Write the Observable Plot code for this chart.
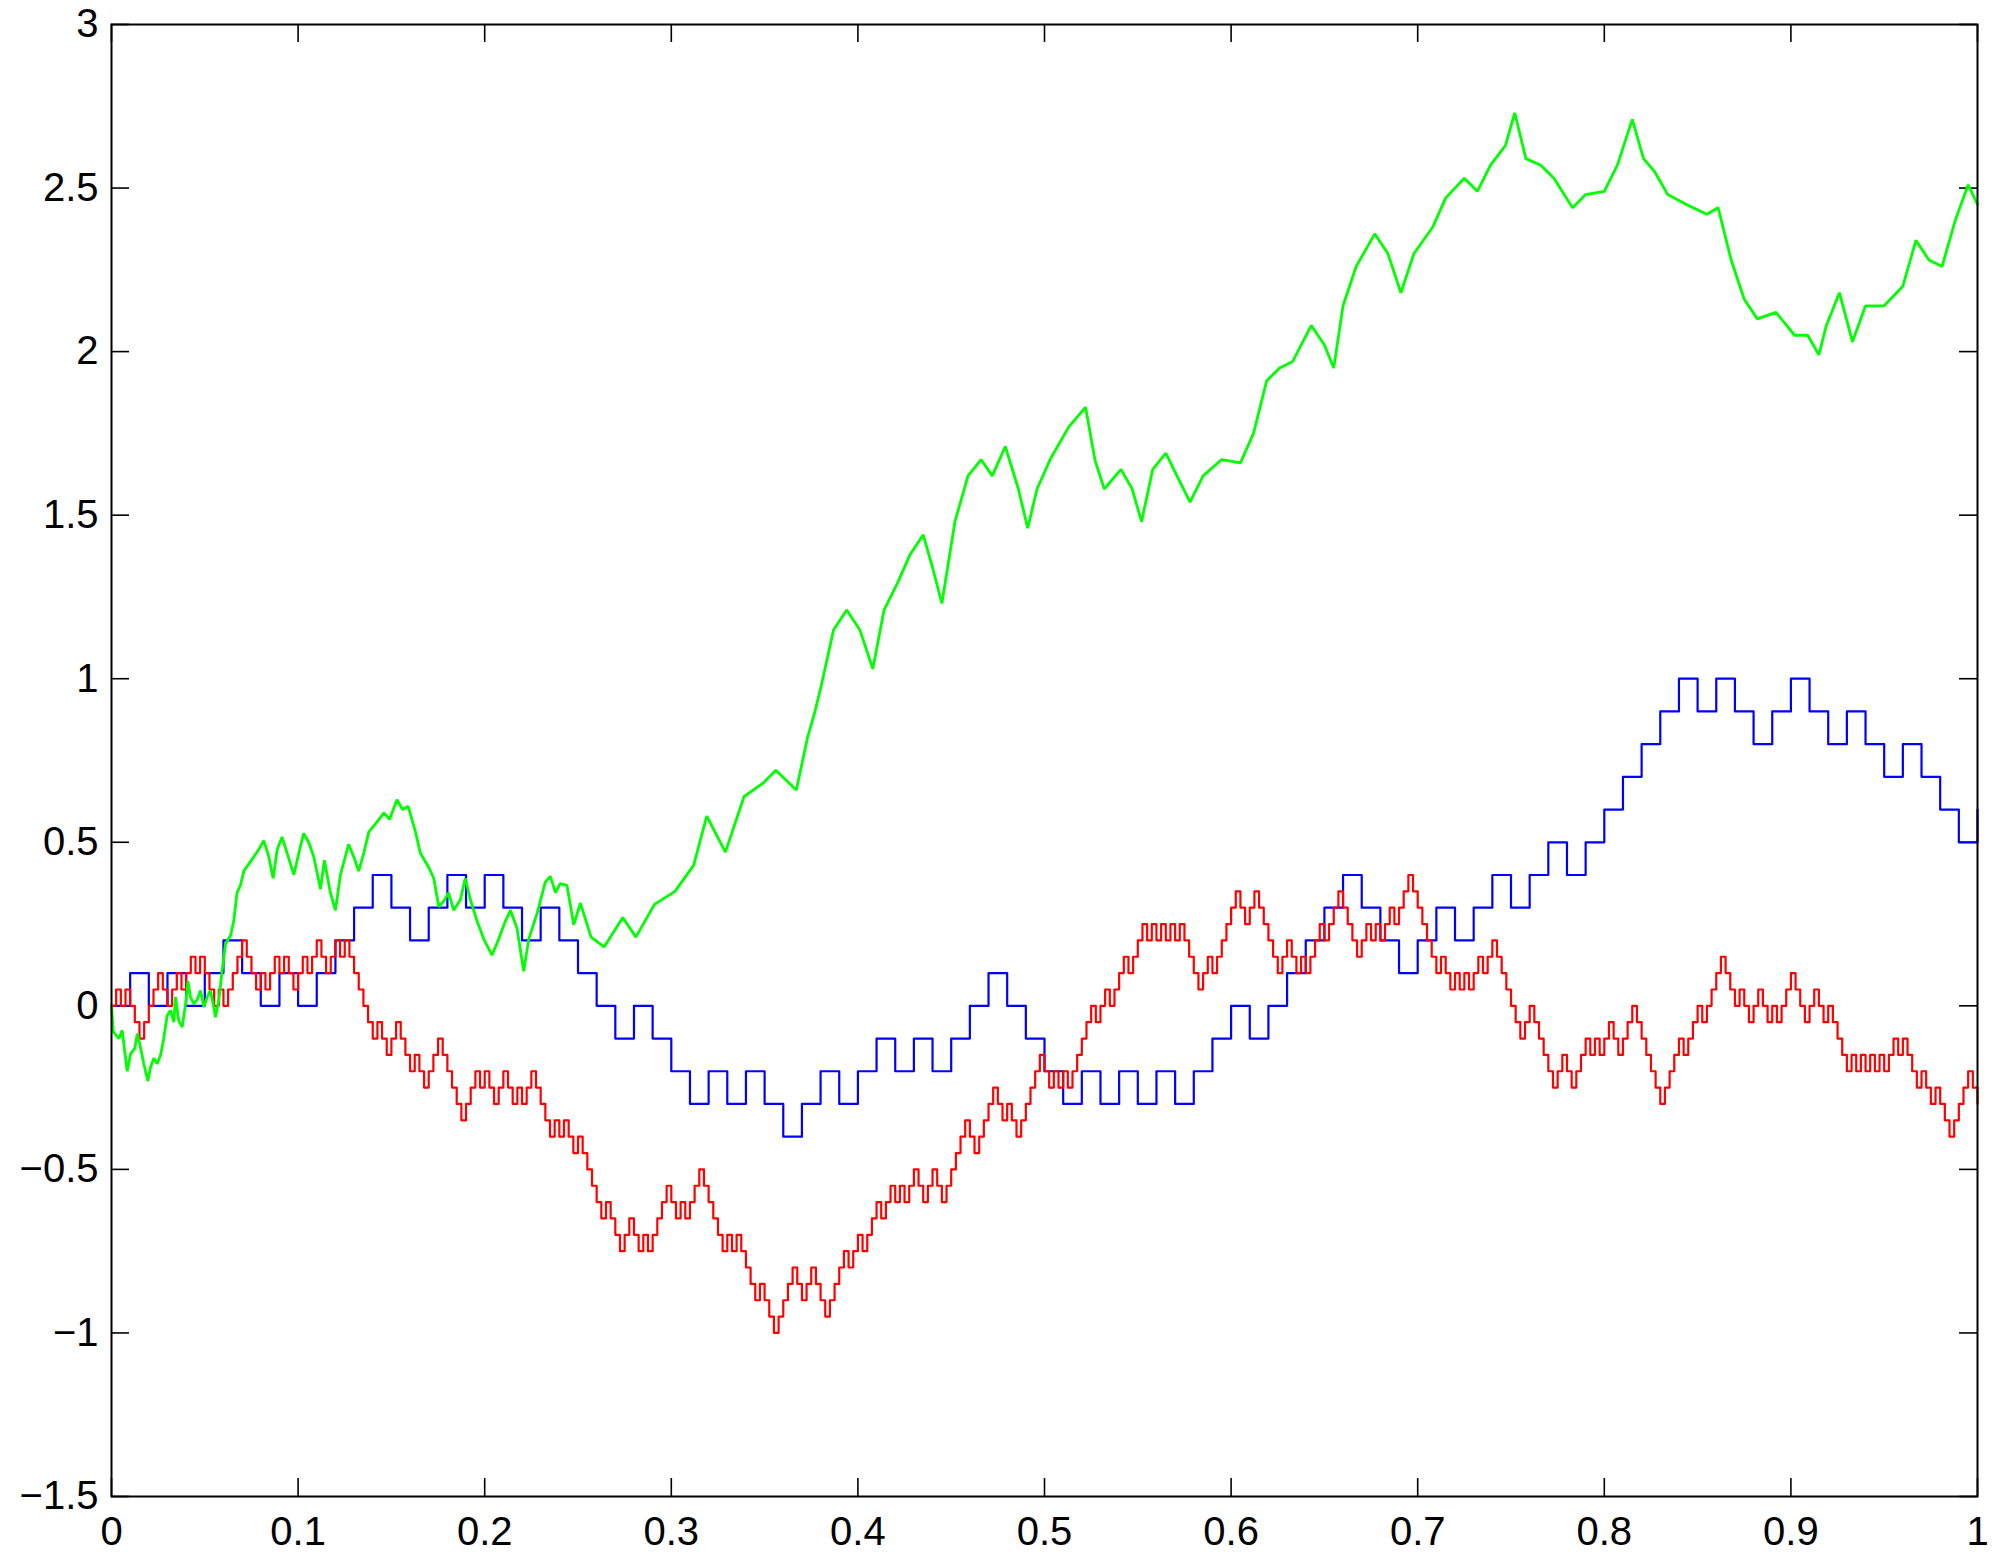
<!DOCTYPE html>
<html>
<head>
<meta charset="utf-8">
<script src="https://cdn.jsdelivr.net/npm/d3@7"></script>
<script src="https://cdn.jsdelivr.net/npm/@observablehq/plot@0.6"></script>
<style>
  html, body { margin: 0; padding: 0; background: #ffffff; }
  #chart { width: 1995px; height: 1558px; }
</style>
</head>
<body>
<div id="chart"></div>
<script>
// ---- tick labels ----
const xTicks = [0, 0.1, 0.2, 0.3, 0.4, 0.5, 0.6, 0.7, 0.8, 0.9, 1];
const yTicks = [-1.5, -1, -0.5, 0, 0.5, 1, 1.5, 2, 2.5, 3];

// ---- blue walk: 100 steps of dt = 0.01, levels in units of 0.1 ----
const blueDt = 0.01, blueUnit = 0.1;
const blueLevels = [0,1,0,1,0,1,2,1,0,1, 0,1,2,3,4,3,2,3,4,3, 4,3,2,3,2,1,0,-1,0,-1,
  -2,-3,-2,-3,-2,-3,-4,-3,-2,-3, -2,-1,-2,-1,-2,-1,0,1,0,-1, -2,-3,-2,-3,-2,-3,-2,-3,-2,-1,
  0,-1,0,1,2,3,4,3,2,1, 2,3,2,3,4,3,4,5,4,5, 6,7,8,9,10,9,10,9,8,9, 10,9,8,9,8,7,8,7,6,5, 6];

// ---- red walk: 400 steps of dt = 0.0025, levels in units of 0.05 ----
const redDt = 0.0025, redUnit = 0.05;
const redLevels = [
  0,1,0,1,0,-1,-2,-1,0,1,2,1,0,1,2,1,2,3,2,3,
  2,1,0,1,0,1,2,3,4,3,2,1,2,1,2,3,2,3,2,1,
  2,3,2,3,4,3,2,3,4,3,4,3,2,1,0,-1,-2,-1,-2,-3,
  -2,-1,-2,-3,-4,-3,-4,-5,-4,-3,-2,-3,-4,-5,-6,-7,-6,-5,-4,-5,
  -4,-5,-6,-5,-4,-5,-6,-5,-6,-5,-4,-5,-6,-7,-8,-7,-8,-7,-8,-9,
  -8,-9,-10,-11,-12,-13,-12,-13,-14,-15,-14,-13,-14,-15,-14,-15,-14,-13,-12,-11,
  -12,-13,-12,-13,-12,-11,-10,-11,-12,-13,-14,-15,-14,-15,-14,-15,-16,-17,-18,-17,
  -18,-19,-20,-19,-18,-17,-16,-17,-18,-17,-16,-17,-18,-19,-18,-17,-16,-15,-16,-15,
  -14,-15,-14,-13,-12,-13,-12,-11,-12,-11,-12,-11,-10,-11,-12,-11,-10,-11,-12,-11,
  -10,-9,-8,-7,-8,-9,-8,-7,-6,-5,-6,-7,-6,-7,-8,-7,-6,-5,-4,-3,
  -4,-5,-4,-5,-4,-5,-4,-3,-2,-1,0,-1,0,1,0,1,2,3,2,3,
  4,5,4,5,4,5,4,5,4,5,4,3,2,1,2,3,2,3,4,5,
  6,7,6,5,6,7,6,5,4,3,2,3,4,3,2,3,2,3,4,5,
  4,5,6,7,6,5,4,3,4,5,4,5,4,5,6,5,6,7,8,7,
  6,5,4,3,2,3,2,1,2,1,2,1,2,3,2,3,4,3,2,1,
  0,-1,-2,-1,0,-1,-2,-3,-4,-5,-4,-3,-4,-5,-4,-3,-2,-3,-2,-3,
  -2,-1,-2,-3,-2,-1,0,-1,-2,-3,-4,-5,-6,-5,-4,-3,-2,-3,-2,-1,
  0,-1,0,1,2,3,2,1,0,1,0,-1,0,1,0,-1,0,-1,0,1,
  2,1,0,-1,0,1,0,-1,0,-1,-2,-3,-4,-3,-4,-3,-4,-3,-4,-3,
  -4,-3,-2,-3,-2,-3,-4,-5,-4,-5,-6,-5,-6,-7,-8,-7,-6,-5,-4,-5,
  -6];

// ---- green path (Brownian) ----
const greenT = [0,0.001,0.004,0.0057,0.0084,0.0102,0.0125,0.0138,0.0155,0.0173,0.0195,0.0209,0.0227,0.0245,0.0263,0.028,0.0298,0.0316,0.0334,0.0343,
  0.036,0.0379,0.0397,0.041,0.0423,0.0441,0.0459,0.0477,0.0495,0.0513,0.053,0.0548,0.0557,0.0575,0.0593,0.0611,0.0638,0.0655,0.0673,0.0691,
  0.0709,0.0736,0.0763,0.0789,0.0816,0.0843,0.0866,0.0888,0.0914,0.0941,0.0977,0.1004,0.103,0.1057,0.1084,0.112,0.1141,0.1173,0.12,0.1227,
  0.1271,0.1298,0.1325,0.1352,0.1379,0.142,0.146,0.149,0.153,0.156,0.159,0.1629,0.1655,0.17,0.1727,0.1754,0.178,0.1807,0.1834,0.187,
  0.1896,0.1923,0.1959,0.1995,0.2039,0.2075,0.2111,0.2138,0.2173,0.2209,0.2236,0.228,0.2325,0.2352,0.2379,0.2405,0.2441,0.2477,0.2513,0.257,
  0.264,0.274,0.281,0.291,0.302,0.312,0.319,0.329,0.339,0.349,0.356,0.367,0.373,0.377,0.38,0.387,0.394,0.401,0.408,0.414,
  0.421,0.428,0.435,0.44,0.445,0.452,0.459,0.466,0.472,0.479,0.486,0.491,0.496,0.503,0.513,0.522,0.527,0.532,0.541,0.547,
  0.552,0.558,0.565,0.571,0.578,0.585,0.595,0.605,0.612,0.619,0.626,0.633,0.643,0.65,0.655,0.66,0.667,0.677,0.684,0.691,
  0.698,0.708,0.715,0.725,0.732,0.739,0.747,0.752,0.758,0.766,0.773,0.783,0.79,0.8,0.807,0.815,0.821,0.827,0.834,0.844,
  0.855,0.861,0.868,0.875,0.882,0.892,0.902,0.909,0.915,0.919,0.926,0.933,0.94,0.95,0.96,0.967,0.974,0.981,0.988,0.995,1];
const greenW = [0,-0.08,-0.1,-0.075,-0.2,-0.147,-0.13,-0.085,-0.126,-0.177,-0.23,-0.188,-0.16,-0.177,-0.15,-0.1,-0.03,-0.014,-0.05,0.027,
  -0.045,-0.065,0.006,0.075,0.027,0.006,0.019,0.047,-0.004,0.027,0.047,-0.004,-0.035,0.016,0.108,0.19,0.215,0.259,0.346,0.368,
  0.412,0.434,0.456,0.478,0.505,0.456,0.39,0.478,0.516,0.467,0.401,0.467,0.527,0.5,0.456,0.357,0.445,0.346,0.292,0.401,
  0.494,0.456,0.412,0.467,0.532,0.56,0.59,0.57,0.63,0.6,0.61,0.532,0.467,0.423,0.39,0.303,0.32,0.346,0.292,0.325,
  0.39,0.325,0.259,0.204,0.155,0.204,0.259,0.292,0.237,0.106,0.204,0.281,0.379,0.396,0.346,0.374,0.368,0.248,0.314,0.21,
  0.18,0.27,0.21,0.31,0.35,0.43,0.58,0.47,0.64,0.68,0.72,0.66,0.82,0.9,0.97,1.15,1.21,1.15,1.03,1.21,
  1.29,1.38,1.44,1.34,1.23,1.48,1.62,1.67,1.62,1.71,1.58,1.46,1.58,1.67,1.77,1.83,1.67,1.58,1.64,1.58,
  1.48,1.64,1.69,1.62,1.54,1.62,1.67,1.66,1.75,1.91,1.95,1.97,2.08,2.02,1.95,2.14,2.26,2.36,2.3,2.18,
  2.3,2.38,2.47,2.53,2.49,2.57,2.63,2.73,2.59,2.57,2.53,2.44,2.48,2.49,2.57,2.71,2.59,2.55,2.48,2.45,
  2.42,2.44,2.28,2.16,2.1,2.12,2.05,2.05,1.99,2.08,2.18,2.03,2.14,2.14,2.2,2.34,2.28,2.26,2.4,2.51,2.45];

// ---- tables built from the arrays ----
const blue = blueLevels.map((k, i) => ({t: i * blueDt, w: k * blueUnit}));
const red = redLevels.map((k, i) => ({t: i * redDt, w: k * redUnit}));
const green = greenT.map((t, i) => ({t, w: greenW[i]}));

const W = 1995, H = 1558;
const mL = 111, mR = 18, mT = 24, mB = 62;
const frameW = W - mL - mR, frameH = H - mT - mB;
const tickLen = 18;
const fmt = d => (d < 0 ? "\u2212" + Math.abs(d) : String(d));

const chart = Plot.plot({
  width: W, height: H,
  marginLeft: mL, marginRight: mR, marginTop: mT, marginBottom: mB,
  style: {fontFamily: "'Liberation Sans', Arial, Helvetica, sans-serif", fontSize: "40px", background: "#ffffff", color: "#000000"},
  x: {domain: [0, 1], label: null},
  y: {domain: [-1.5, 3], label: null},
  marks: [
    Plot.ruleX(xTicks, {insetTop: frameH - tickLen, stroke: "#000", strokeWidth: 1.6}),
    Plot.ruleX(xTicks, {insetBottom: frameH - tickLen, stroke: "#000", strokeWidth: 1.6}),
    Plot.ruleY(yTicks, {insetRight: frameW - tickLen, stroke: "#000", strokeWidth: 1.6}),
    Plot.ruleY(yTicks, {insetLeft: frameW - tickLen, stroke: "#000", strokeWidth: 1.6}),
    Plot.line(blue, {x: "t", y: "w", curve: "step-after", stroke: "#0000ff", strokeWidth: 2.2}),
    Plot.line(red, {x: "t", y: "w", curve: "step-after", stroke: "#ff0000", strokeWidth: 2.2}),
    Plot.line(green, {x: "t", y: "w", stroke: "#00ff00", strokeWidth: 2.8, strokeLinejoin: "miter"}),
    Plot.frame({stroke: "#000", strokeWidth: 2}),
    Plot.axisX({ticks: xTicks, tickSize: 0, tickPadding: 20, tickFormat: fmt, fontSize: 40, label: null}),
    Plot.axisY({ticks: yTicks, tickSize: 0, tickPadding: 13, tickFormat: fmt, fontSize: 40, label: null})
  ]
});
document.getElementById("chart").appendChild(chart);
</script>
</body>
</html>
